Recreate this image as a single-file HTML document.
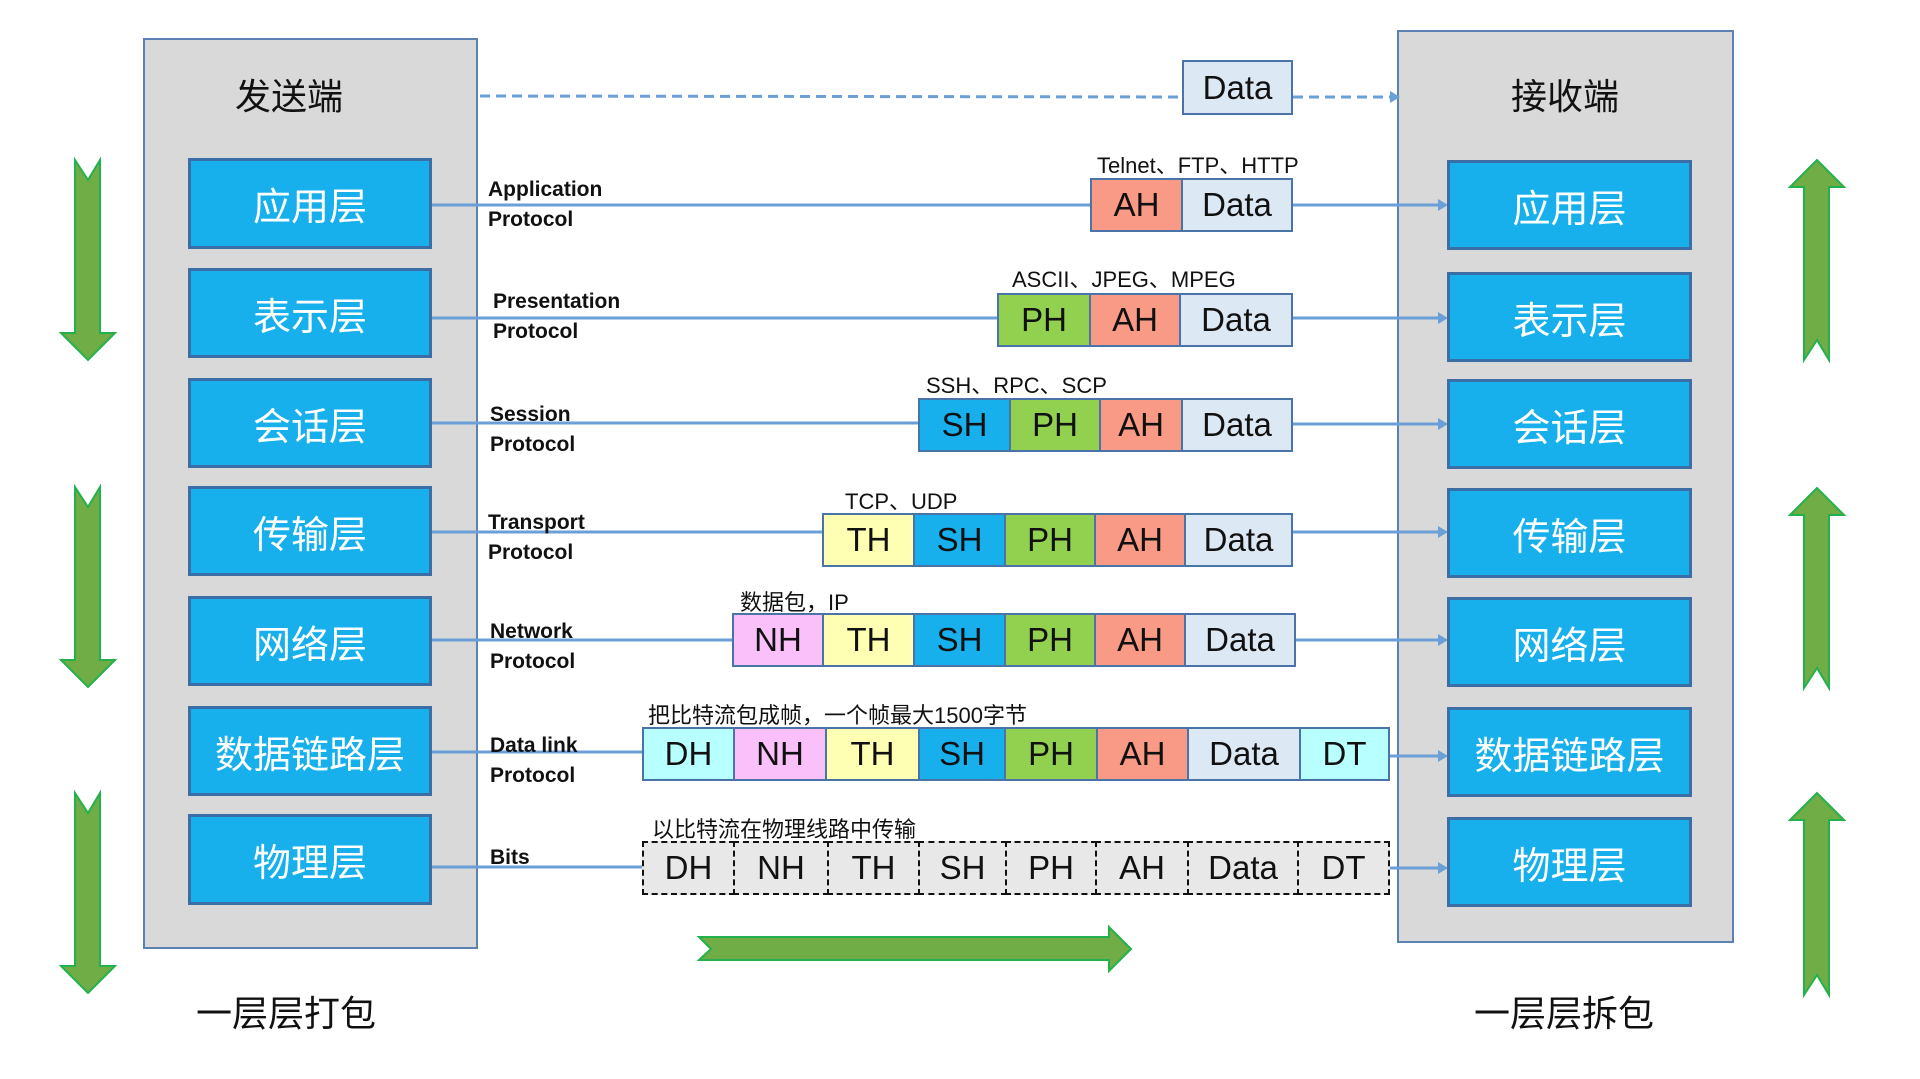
<!DOCTYPE html>
<html><head><meta charset="utf-8"><style>
body{margin:0;width:1920px;height:1079px;background:#fff;position:relative;overflow:hidden;font-family:"Liberation Sans","Noto Sans CJK SC",sans-serif;}
.a{position:absolute;box-sizing:border-box;}
.panel{background:#d9d9d9;border:2px solid #5b82b0;}
.lb{background:#17b0ec;border:3px solid #3a6ea5;color:#fff;font-size:38px;display:flex;align-items:center;justify-content:center;font-family:"Noto Sans CJK SC",sans-serif;}
.c{position:absolute;box-sizing:border-box;border:2px solid #4a73a8;display:flex;align-items:center;justify-content:center;font-size:33px;color:#111;font-family:"Liberation Sans","Noto Sans CJK SC",sans-serif;}
.d{position:absolute;box-sizing:border-box;border:2px dashed #111;background:#e8e8e8;display:flex;align-items:center;justify-content:center;font-size:33px;color:#111;}
.AH{background:#f99a86}.PH{background:#92d050}.SH{background:#17b0ec}.TH{background:#ffffb3}.NH{background:#f9c0f9}.DH{background:#b8ffff}.DT{background:#b8ffff}.Data{background:#dde8f5}
.pl{position:absolute;font-size:21px;font-weight:bold;line-height:30px;color:#111;}
.lab{position:absolute;font-size:22px;color:#111;font-family:"Liberation Sans","Noto Sans CJK SC",sans-serif;white-space:nowrap;}
.big{position:absolute;font-size:36px;color:#111;font-family:"Noto Sans CJK SC",sans-serif;white-space:nowrap;}
</style></head><body>
<div class="a panel" style="left:143px;top:38px;width:335px;height:911px"></div>
<div class="a panel" style="left:1397px;top:30px;width:337px;height:913px"></div>
<div class="big" style="left:235px;top:68px">发送端</div>
<div class="big" style="left:1511px;top:68px">接收端</div>
<div class="big" style="left:196px;top:985px">一层层打包</div>
<div class="big" style="left:1474px;top:985px">一层层拆包</div>

<svg class="a" style="left:0;top:0" width="1920" height="1079">
<g stroke="#6a9fd8" stroke-width="3" fill="none">
<line x1="480" y1="96" x2="1182" y2="97" stroke-dasharray="10,6"/>
<line x1="1293" y1="97" x2="1390" y2="97" stroke-dasharray="10,6"/>
<line x1="431" y1="205" x2="1090" y2="205"/><line x1="1293" y1="205" x2="1440" y2="205"/>
<line x1="431" y1="318" x2="997" y2="318"/><line x1="1293" y1="318" x2="1440" y2="318"/>
<line x1="431" y1="423" x2="918" y2="423"/><line x1="1293" y1="424" x2="1440" y2="424"/>
<line x1="431" y1="532" x2="822" y2="532"/><line x1="1293" y1="532" x2="1440" y2="532"/>
<line x1="431" y1="640" x2="732" y2="640"/><line x1="1296" y1="640" x2="1440" y2="640"/>
<line x1="431" y1="752" x2="642" y2="752"/><line x1="1390" y1="756" x2="1440" y2="756"/>
<line x1="431" y1="867" x2="642" y2="867"/><line x1="1390" y1="868" x2="1440" y2="868"/>
</g>
<g fill="#6a9fd8">
<polygon points="1390,91 1400,97 1390,103"/>
<polygon points="1438,199 1448,205 1438,211"/><polygon points="1438,312 1448,318 1438,324"/>
<polygon points="1438,418 1448,424 1438,430"/><polygon points="1438,526 1448,532 1438,538"/>
<polygon points="1438,634 1448,640 1438,646"/><polygon points="1438,750 1448,756 1438,762"/>
<polygon points="1438,862 1448,868 1438,874"/>
</g>
<g fill="#70ad47" stroke="#22b14c" stroke-width="2">
<polygon points="75,160 88,180 100,160 100,333 115,333 88,360 61,333 75,333"/>
<polygon points="75,487 88,507 100,487 100,660 115,660 88,687 61,660 75,660"/>
<polygon points="75,793 88,813 100,793 100,966 115,966 88,993 61,966 75,966"/>
<polygon points="1804,360 1817,340 1829,360 1829,187 1844,187 1817,160 1790,187 1804,187"/>
<polygon points="1804,688 1817,668 1829,688 1829,515 1844,515 1817,488 1790,515 1804,515"/>
<polygon points="1804,995 1817,975 1829,995 1829,820 1844,820 1817,793 1790,820 1804,820"/>
<polygon points="699,937 1109,937 1109,927 1131,949 1109,971 1109,960 699,960 711,949"/>
</g>
</svg>

<div class="a lb" style="left:188px;top:158px;width:244px;height:91px">应用层</div>
<div class="a lb" style="left:188px;top:268px;width:244px;height:90px">表示层</div>
<div class="a lb" style="left:188px;top:378px;width:244px;height:90px">会话层</div>
<div class="a lb" style="left:188px;top:486px;width:244px;height:90px">传输层</div>
<div class="a lb" style="left:188px;top:596px;width:244px;height:90px">网络层</div>
<div class="a lb" style="left:188px;top:706px;width:244px;height:90px">数据链路层</div>
<div class="a lb" style="left:188px;top:814px;width:244px;height:91px">物理层</div>

<div class="a lb" style="left:1447px;top:160px;width:245px;height:90px">应用层</div>
<div class="a lb" style="left:1447px;top:272px;width:245px;height:90px">表示层</div>
<div class="a lb" style="left:1447px;top:379px;width:245px;height:90px">会话层</div>
<div class="a lb" style="left:1447px;top:488px;width:245px;height:90px">传输层</div>
<div class="a lb" style="left:1447px;top:597px;width:245px;height:90px">网络层</div>
<div class="a lb" style="left:1447px;top:707px;width:245px;height:90px">数据链路层</div>
<div class="a lb" style="left:1447px;top:817px;width:245px;height:90px">物理层</div>

<div class="pl" style="left:488px;top:175px">Application<br>Protocol</div>
<div class="pl" style="left:493px;top:287px">Presentation<br>Protocol</div>
<div class="pl" style="left:490px;top:400px">Session<br>Protocol</div>
<div class="pl" style="left:488px;top:508px">Transport<br>Protocol</div>
<div class="pl" style="left:490px;top:617px">Network<br>Protocol</div>
<div class="pl" style="left:490px;top:731px">Data link<br>Protocol</div>
<div class="pl" style="left:490px;top:843px">Bits</div>

<div class="c Data" style="left:1182px;top:60px;width:111px;height:55px">Data</div>

<div class="lab" style="left:1097px;top:148px">Telnet、FTP、HTTP</div>
<div class="c AH" style="left:1090px;top:178px;width:93px;height:54px">AH</div>
<div class="c Data" style="left:1181px;top:178px;width:112px;height:54px">Data</div>

<div class="lab" style="left:1012px;top:262px">ASCII、JPEG、MPEG</div>
<div class="c PH" style="left:997px;top:293px;width:94px;height:54px">PH</div>
<div class="c AH" style="left:1089px;top:293px;width:92px;height:54px">AH</div>
<div class="c Data" style="left:1179px;top:293px;width:114px;height:54px">Data</div>

<div class="lab" style="left:926px;top:368px">SSH、RPC、SCP</div>
<div class="c SH" style="left:918px;top:398px;width:93px;height:54px">SH</div>
<div class="c PH" style="left:1009px;top:398px;width:92px;height:54px">PH</div>
<div class="c AH" style="left:1099px;top:398px;width:84px;height:54px">AH</div>
<div class="c Data" style="left:1181px;top:398px;width:112px;height:54px">Data</div>

<div class="lab" style="left:845px;top:484px">TCP、UDP</div>
<div class="c TH" style="left:822px;top:513px;width:93px;height:54px">TH</div>
<div class="c SH" style="left:913px;top:513px;width:93px;height:54px">SH</div>
<div class="c PH" style="left:1004px;top:513px;width:92px;height:54px">PH</div>
<div class="c AH" style="left:1094px;top:513px;width:92px;height:54px">AH</div>
<div class="c Data" style="left:1184px;top:513px;width:109px;height:54px">Data</div>

<div class="lab" style="left:740px;top:585px">数据包，IP</div>
<div class="c NH" style="left:732px;top:613px;width:92px;height:54px">NH</div>
<div class="c TH" style="left:822px;top:613px;width:93px;height:54px">TH</div>
<div class="c SH" style="left:913px;top:613px;width:93px;height:54px">SH</div>
<div class="c PH" style="left:1004px;top:613px;width:92px;height:54px">PH</div>
<div class="c AH" style="left:1094px;top:613px;width:92px;height:54px">AH</div>
<div class="c Data" style="left:1184px;top:613px;width:112px;height:54px">Data</div>

<div class="lab" style="left:648px;top:698px">把比特流包成帧，一个帧最大1500字节</div>
<div class="c DH" style="left:642px;top:727px;width:93px;height:54px">DH</div>
<div class="c NH" style="left:733px;top:727px;width:94px;height:54px">NH</div>
<div class="c TH" style="left:825px;top:727px;width:95px;height:54px">TH</div>
<div class="c SH" style="left:918px;top:727px;width:88px;height:54px">SH</div>
<div class="c PH" style="left:1004px;top:727px;width:94px;height:54px">PH</div>
<div class="c AH" style="left:1096px;top:727px;width:93px;height:54px">AH</div>
<div class="c Data" style="left:1187px;top:727px;width:114px;height:54px">Data</div>
<div class="c DT" style="left:1299px;top:727px;width:91px;height:54px">DT</div>

<div class="lab" style="left:652px;top:812px">以比特流在物理线路中传输</div>
<div class="d" style="left:642px;top:841px;width:93px;height:54px">DH</div>
<div class="d" style="left:733px;top:841px;width:96px;height:54px">NH</div>
<div class="d" style="left:827px;top:841px;width:93px;height:54px">TH</div>
<div class="d" style="left:918px;top:841px;width:89px;height:54px">SH</div>
<div class="d" style="left:1005px;top:841px;width:92px;height:54px">PH</div>
<div class="d" style="left:1095px;top:841px;width:94px;height:54px">AH</div>
<div class="d" style="left:1187px;top:841px;width:112px;height:54px">Data</div>
<div class="d" style="left:1297px;top:841px;width:93px;height:54px">DT</div>
</body></html>
